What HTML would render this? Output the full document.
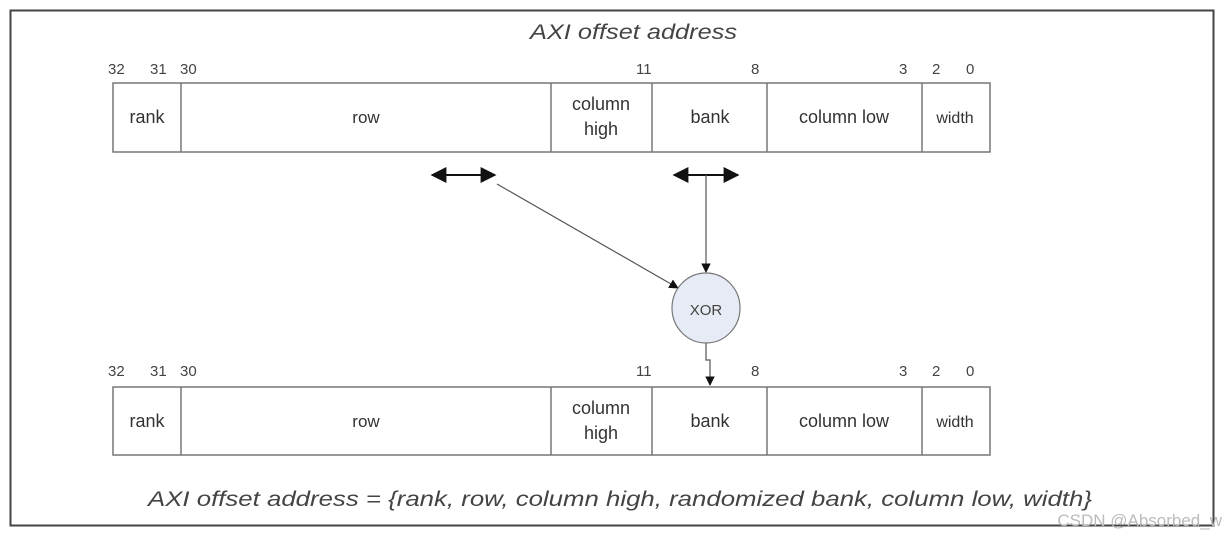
<!DOCTYPE html>
<html><head><style>
body{margin:0;width:1225px;height:539px;background:#fff;overflow:hidden;font-family:"Liberation Sans",sans-serif;}
</style></head><body>
<svg width="1225" height="539" xmlns="http://www.w3.org/2000/svg" font-family="Liberation Sans, sans-serif">
<defs><marker id="a" viewBox="0 0 10 10" refX="9" refY="5" markerWidth="8" markerHeight="8" orient="auto-start-reverse"><path d="M0,0L10,5L0,10z" fill="#111"/></marker></defs>
<rect x="10.5" y="10.5" width="1203" height="515" fill="none" stroke="#444" stroke-width="2"/>
<text x="530" y="39" font-size="21" font-style="italic" fill="#444" textLength="207" lengthAdjust="spacingAndGlyphs">AXI offset address</text>
<g font-size="15" fill="#444">
<text x="108" y="74">32</text><text x="150" y="74">31</text><text x="180" y="74">30</text>
<text x="636" y="74">11</text><text x="751" y="74">8</text><text x="899" y="74">3</text><text x="932" y="74">2</text><text x="966" y="74">0</text>
<text x="108" y="376">32</text><text x="150" y="376">31</text><text x="180" y="376">30</text>
<text x="636" y="376">11</text><text x="751" y="376">8</text><text x="899" y="376">3</text><text x="932" y="376">2</text><text x="966" y="376">0</text>
</g>
<g stroke="#777" stroke-width="1.5" fill="none">
<rect x="113" y="83" width="877" height="69"/>
<line x1="181" y1="83" x2="181" y2="152"/><line x1="551" y1="83" x2="551" y2="152"/><line x1="652" y1="83" x2="652" y2="152"/><line x1="767" y1="83" x2="767" y2="152"/><line x1="922" y1="83" x2="922" y2="152"/>
<rect x="113" y="387" width="877" height="68"/>
<line x1="181" y1="387" x2="181" y2="455"/><line x1="551" y1="387" x2="551" y2="455"/><line x1="652" y1="387" x2="652" y2="455"/><line x1="767" y1="387" x2="767" y2="455"/><line x1="922" y1="387" x2="922" y2="455"/>
</g>
<g font-size="18" fill="#333" text-anchor="middle">
<text x="147" y="123">rank</text><text x="366" y="123" font-size="17">row</text><text x="601" y="110">column</text><text x="601" y="135">high</text><text x="710" y="123">bank</text><text x="844" y="123">column low</text><text x="955" y="123" font-size="16">width</text>
<text x="147" y="427">rank</text><text x="366" y="427" font-size="17">row</text><text x="601" y="414">column</text><text x="601" y="439">high</text><text x="710" y="427">bank</text><text x="844" y="427">column low</text><text x="955" y="427" font-size="16">width</text>
</g>
<g stroke="#111" stroke-width="2" fill="none">
<line x1="432" y1="175" x2="495" y2="175" marker-start="url(#a)" marker-end="url(#a)"/>
<line x1="674" y1="175" x2="738" y2="175" marker-start="url(#a)" marker-end="url(#a)"/>
</g>
<g stroke="#555" stroke-width="1.2" fill="none">
<line x1="497" y1="184" x2="678" y2="288" marker-end="url(#a)"/>
<line x1="706" y1="175" x2="706" y2="272" marker-end="url(#a)"/>
<path d="M706,342 V360 H710 V385" marker-end="url(#a)"/>
</g>
<ellipse cx="706" cy="308" rx="34" ry="35" fill="#e6ebf5" stroke="#777" stroke-width="1.2"/>
<text x="706" y="315" font-size="15" fill="#444" text-anchor="middle">XOR</text>
<text x="148" y="506" font-size="21" font-style="italic" fill="#444" textLength="944" lengthAdjust="spacingAndGlyphs">AXI offset address = {rank, row, column high, randomized bank, column low, width}</text>
<text x="1222" y="526" font-size="17" fill="#bbb" text-anchor="end">CSDN @Absorbed_w</text>
</svg>
</body></html>
